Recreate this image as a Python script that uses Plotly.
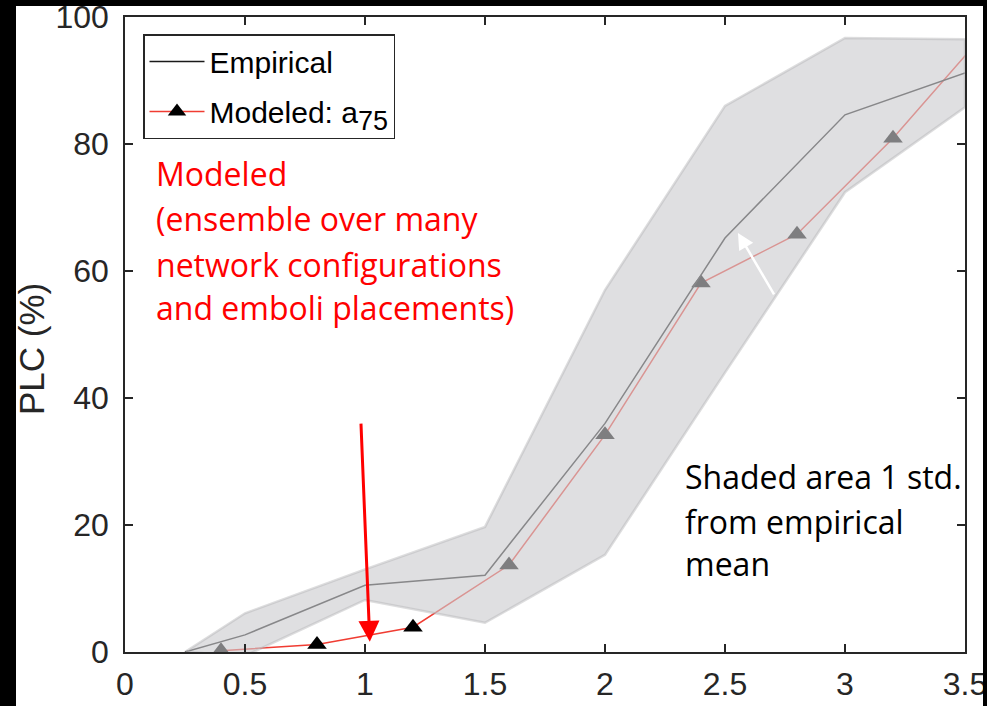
import plotly.graph_objects as go

# ---- data ----
emp_x = [0.25, 0.5, 1.0, 1.5, 2.0, 2.5, 3.0, 3.5]
emp_y = [0.0, 2.7, 10.5, 12.1, 36.0, 65.2, 84.6, 91.2]
emp_upper = [0.0, 6.1, 13.0, 19.7, 57.0, 86.0, 96.7, 96.5]
emp_lower = [0.0, -0.6, 8.2, 4.6, 15.3, 44.0, 72.4, 85.8]

mod_x = [0.4, 0.8, 1.2, 1.6, 2.0, 2.4, 2.8, 3.2, 3.6]
mod_y = [0.2, 1.2, 3.9, 13.7, 34.2, 58.1, 65.8, 80.9, 98.2]

x_ticks = [0, 0.5, 1, 1.5, 2, 2.5, 3, 3.5]
x_ticktext = ["0", "0.5", "1", "1.5", "2", "2.5", "3", "3.5"]
y_ticks = [0, 20, 40, 60, 80, 100]
y_ticktext = ["0", "20", "40", "60", "80", "100"]

red_lines = ["Modeled", "(ensemble over many", "network configurations", "and emboli placements)"]
red_y = [75.3, 68.2, 61.1, 54.2]
note_lines = ["Shaded area 1 std.", "from empirical", "mean"]
note_y = [27.6, 20.6, 13.9]

W, H = 987, 706
ML, MR, MT, MB = 125, 22, 17, 54
PW, PH = W - ML - MR, H - MT - MB
AX = "#262626"
SANS = "Liberation Sans, Arial, sans-serif"
TXT = "Open Sans, sans-serif"

fig = go.Figure()

fig.add_trace(go.Scatter(
    x=mod_x, y=mod_y, mode="lines+markers",
    name='Modeled: a<sub><span style="font-size:27px">75</span></sub>',
    line=dict(color="#f03c32", width=1.5),
    marker=dict(symbol="triangle-up", size=17, color="black", line=dict(width=0)),
    legendrank=2, legendgroup="m",
))
fig.add_trace(go.Scatter(
    x=emp_x, y=emp_y, mode="lines", name="Empirical",
    line=dict(color="#1a1a1a", width=1.5), legendrank=1, legendgroup="e",
))
band_x = emp_x + emp_x[::-1]
band_y = emp_upper + emp_lower[::-1]
fig.add_trace(go.Scatter(
    x=band_x, y=band_y, mode="lines", fill="toself",
    fillcolor="rgba(203,203,207,0.62)",
    line=dict(color="rgba(180,180,182,0.45)", width=2.5),
    showlegend=False, hoverinfo="skip",
))

ann = []
for t, yy in zip(red_lines, red_y):
    ann.append(dict(x=0.12, y=yy, xref="x", yref="y", text=t, showarrow=False,
                    xanchor="left", yanchor="middle",
                    font=dict(family=TXT, size=32, color="#ff0000")))
for t, yy in zip(note_lines, note_y):
    ann.append(dict(x=2.325, y=yy, xref="x", yref="y", text=t, showarrow=False,
                    xanchor="left", yanchor="middle",
                    font=dict(family=TXT, size=32, color="black")))
# arrows
ann.append(dict(x=1.02, y=1.6, ax=0.983, ay=36.2, xref="x", yref="y", axref="x", ayref="y",
                text="", showarrow=True, arrowcolor="#ff0000", arrowwidth=3,
                arrowhead=2, arrowsize=1.4))
ann.append(dict(x=2.554, y=66.0, ax=2.708, ay=56.1, xref="x", yref="y", axref="x", ayref="y",
                text="", showarrow=True, arrowcolor="white", arrowwidth=2.5,
                arrowhead=2, arrowsize=1.3))
# y title
ann.append(dict(x=(31 - ML) / PW, y=(H - MB - 349) / PH, xref="paper", yref="paper",
                text="PLC (%)", textangle=-90, showarrow=False,
                xanchor="center", yanchor="middle",
                font=dict(family=SANS, size=35, color=AX)))

def px_x(p):
    return (p - ML) / PW

def px_y(p):
    return (H - MB - p) / PH

shapes = [
    dict(type="rect", xref="paper", yref="paper", x0=px_x(0), x1=px_x(16), y0=px_y(H), y1=px_y(0),
         fillcolor="black", line=dict(width=0), layer="above"),
    dict(type="rect", xref="paper", yref="paper", x0=px_x(0), x1=px_x(W), y0=px_y(6), y1=px_y(0),
         fillcolor="black", line=dict(width=0), layer="above"),
    dict(type="rect", xref="paper", yref="paper", x0=px_x(983), x1=px_x(W), y0=px_y(H), y1=px_y(0),
         fillcolor="black", line=dict(width=0), layer="above"),
]

fig.update_layout(
    width=W, height=H,
    margin=dict(l=ML, r=MR, t=MT, b=MB, pad=0, autoexpand=False),
    paper_bgcolor="white", plot_bgcolor="white",
    showlegend=True,
    legend=dict(x=px_x(143), y=px_y(34), xanchor="left", yanchor="top",
                bgcolor="white", bordercolor=AX, borderwidth=1.5,
                font=dict(family=SANS, size=30, color="black"),
                itemwidth=55, tracegroupgap=8),
    annotations=ann, shapes=shapes,
    xaxis=dict(range=[0, 3.5], tickvals=x_ticks, ticktext=x_ticktext,
               ticks="inside", ticklen=8, tickwidth=1.5, tickcolor=AX,
               showline=True, linecolor=AX, linewidth=1.5, mirror="ticks",
               showgrid=False, zeroline=False, ticklabelstandoff=3,
               ticklabeloverflow="allow", automargin=False,
               tickfont=dict(family=SANS, size=32, color=AX)),
    yaxis=dict(range=[0, 100], tickvals=y_ticks, ticktext=y_ticktext,
               ticks="inside", ticklen=8, tickwidth=1.5, tickcolor=AX,
               showline=True, linecolor=AX, linewidth=1.5, mirror="ticks",
               showgrid=False, zeroline=False, ticklabelstandoff=8,
               ticklabeloverflow="allow", automargin=False,
               tickfont=dict(family=SANS, size=32, color=AX)),
)

fig.write_html("out.html")
